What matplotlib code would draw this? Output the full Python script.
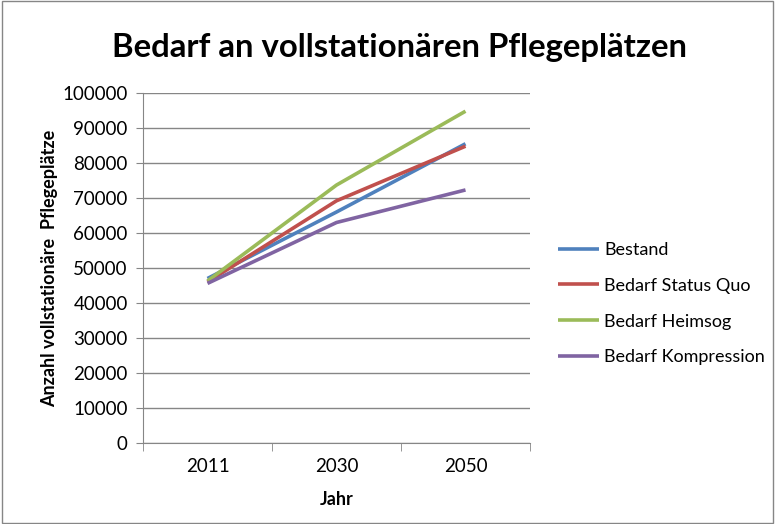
import matplotlib
matplotlib.use("Agg")
import matplotlib.pyplot as plt
from matplotlib.patches import Rectangle

# --- DATA --- #
years = ["2011", "2030", "2050"]
bestand = [47000, 66000, 85500]
status_quo = [46000, 69200, 84800]
heimsog = [46300, 73700, 94800]
kompression = [45600, 63000, 72300]

series_names = ["Bestand", "Bedarf Status Quo", "Bedarf Heimsog", "Bedarf Kompression"]
series_colors = ["#4F81BD", "#C0504D", "#9BBB59", "#8064A2"]

plt.rcParams['font.family'] = ['Lato', 'DejaVu Sans']

fig = plt.figure(figsize=(7.75, 5.24), dpi=100)
ax = fig.add_axes([143 / 775, 1 - 443 / 524, (530 - 143) / 775, (443 - 93) / 524])

xs = range(len(years))
for vals, name, col in zip([bestand, status_quo, heimsog, kompression], series_names, series_colors):
    ax.plot(xs, vals, color=col, linewidth=2.6, label=name, solid_capstyle='butt')

ax.set_xlim(-0.5, len(years) - 0.5)
ax.set_ylim(0, 100000)
ax.set_yticks(range(0, 100001, 10000))
ax.set_yticklabels([str(v) for v in range(0, 100001, 10000)], fontsize=13.5)
ax.set_xticks(list(xs))
ax.set_xticklabels(years, fontsize=13.5)
ax.set_xticks([-0.5, 0.5, 1.5, 2.5], minor=True)
ax.tick_params(axis='x', which='major', length=0, pad=11)
ax.tick_params(axis='x', which='minor', length=6, color='#868686', direction='out')
ax.tick_params(axis='y', length=5, color='#868686', direction='out', pad=6)

ax.grid(axis='y', color='#868686', linewidth=1)
ax.set_axisbelow(True)
for s in ['top', 'right']:
    ax.spines[s].set_visible(False)
for s in ['left', 'bottom']:
    ax.spines[s].set_color('#868686')

ax.set_xlabel("Jahr", fontsize=13, fontweight='bold', labelpad=11)
ax.set_ylabel("Anzahl vollstationäre  Pflegeplätze", fontsize=13, fontweight='bold', labelpad=3)

fig.text(399 / 775, 1 - 47 / 524, "Bedarf an vollstationären Pflegeplätzen", fontsize=23.7,
         fontweight='bold', ha='center', va='center')

ax.legend(loc='center left', bbox_to_anchor=(1.03, 0.398), frameon=False, fontsize=13,
          handlelength=2.3, handletextpad=0.25, labelspacing=1.1)

fig.patches.append(Rectangle((0.002, 0.002), 0.996, 0.996, transform=fig.transFigure,
                             fill=False, edgecolor='#868686', linewidth=1))

fig.savefig("out.png", dpi=100)
